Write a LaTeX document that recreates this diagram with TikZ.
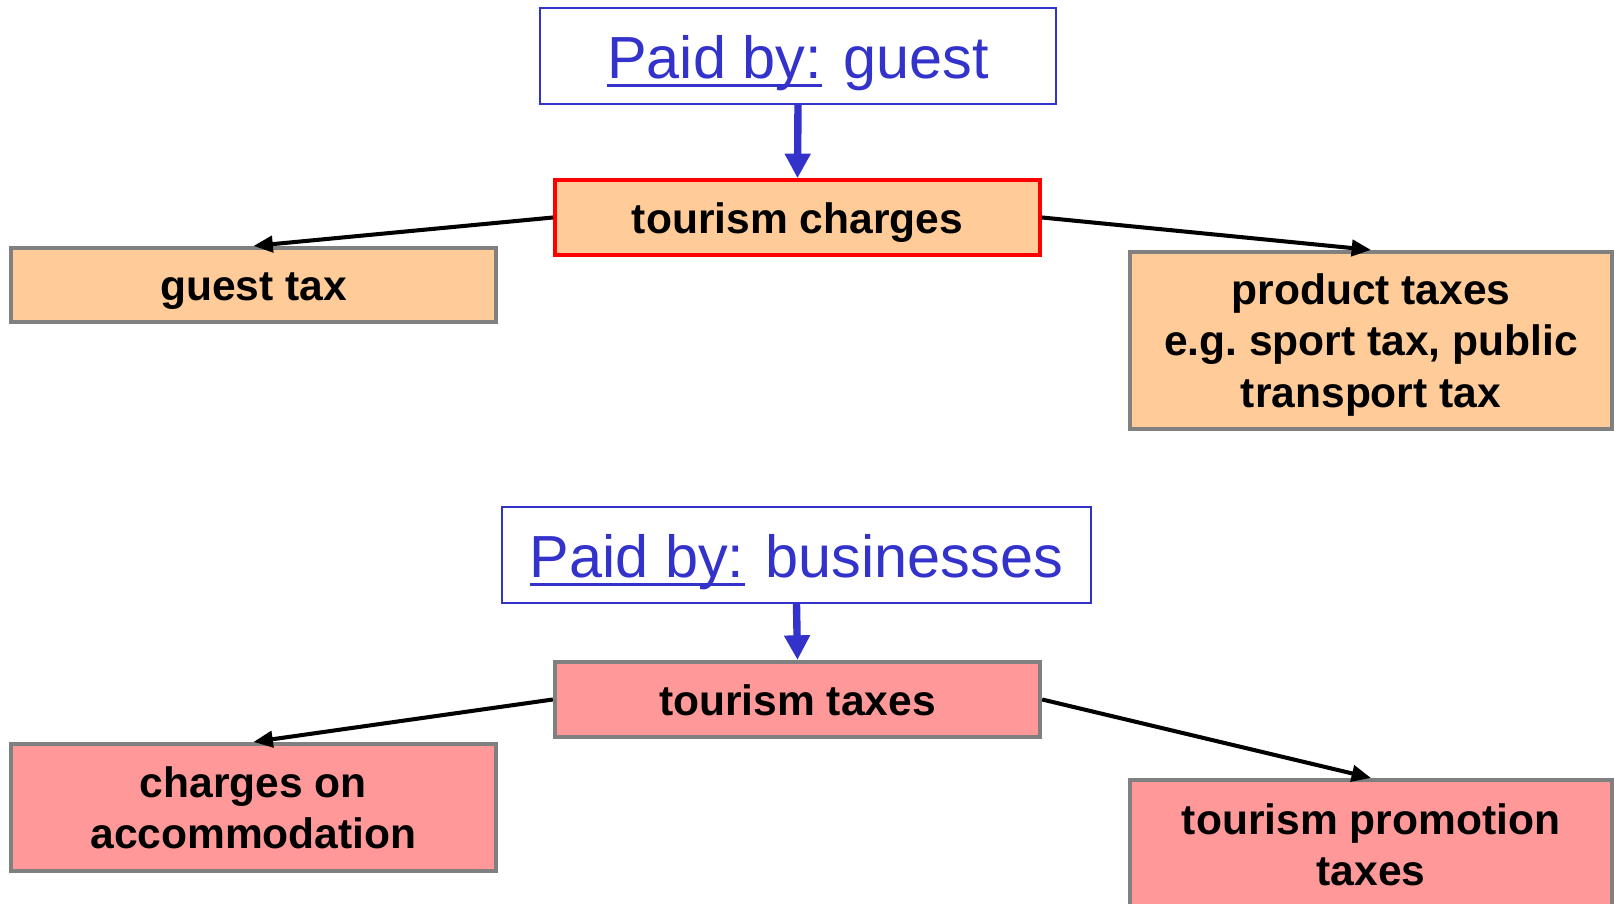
\documentclass[tikz,border=0pt]{standalone}
\usepackage{fontspec}
\setmainfont{Liberation Sans}
\usetikzlibrary{arrows.meta}
\frenchspacing

\definecolor{paidblue}{HTML}{3333CC}
\definecolor{boxorange}{HTML}{FFCC99}
\definecolor{boxpink}{HTML}{FF9999}
\definecolor{boxgray}{HTML}{808080}

% underline that sits just under the baseline, crossing descenders
\newcommand{\paidunder}[1]{\leavevmode\setbox0\hbox{#1}\rlap{\rule[-0.14em]{\wd0}{0.055em}}\box0}
\newcommand{\paidby}[1]{\paidunder{Paid by:}\hspace{0.36em}#1}

\tikzset{
  payerbox/.style={draw=paidblue, line width=0.6pt, fill=white, inner sep=0pt,
    text=paidblue, font=\fontsize{16.9}{19}\selectfont, text height=13pt, text depth=0pt},
  taxbox/.style={draw=boxgray, line width=1.15pt, inner sep=0pt, align=center,
    font=\fontsize{12.1}{14.6}\selectfont\bfseries},
  oneline/.style={text height=9pt, text depth=0pt},
  chargebox/.style={taxbox, fill=boxorange},
  levybox/.style={taxbox, fill=boxpink},
  branch/.style={draw=black, line width=1.15pt, -{Triangle[length=5.5pt,width=4.6pt]}},
  payerarrow/.style={draw=paidblue, line width=2.1pt, -{Triangle[length=7pt,width=7pt]}}
}

\begin{document}
\begin{tikzpicture}[x=0.01cm, y=-0.01cm]
  \clip (0,0) rectangle (1614,904);
  \fill[white] (0,0) rectangle (1614,904);

  % upper group: charges paid by guests
  \node[payerbox, minimum width=5.15cm, minimum height=0.96cm] (guest) at (798,56) {\paidby{guest}};
  \node[chargebox, oneline, draw=red, line width=1pt, minimum width=4.85cm, minimum height=0.75cm] (charges) at (797.5,217.5) {tourism charges};
  \node[chargebox, oneline, minimum width=4.85cm, minimum height=0.74cm] (guesttax) at (253.5,285) {guest tax};
  \node[chargebox, text depth=0pt, minimum width=4.82cm, minimum height=1.77cm] (product) at (1371,340.5) {product taxes\\e.g. sport tax, public\\transport tax};

  % lower group: taxes paid by businesses
  \node[payerbox, minimum width=5.89cm, minimum height=0.96cm] (business) at (796.5,555) {\paidby{businesses}};
  \node[levybox, oneline, minimum width=4.85cm, minimum height=0.75cm] (taxes) at (797.5,699.5) {tourism taxes};
  \node[levybox, minimum width=4.85cm, minimum height=1.27cm] (accom) at (253.5,807.5) {charges on\\accommodation};
  \node[levybox, minimum width=4.82cm, minimum height=1.30cm] (promo) at (1371,845) {tourism promotion\\taxes};

  % connectors
  \draw[payerarrow] (guest.south) -- (charges.north);
  \draw[branch] (charges.west) -- (guesttax.north);
  \draw[branch] (charges.east) -- (product.north);

  \draw[payerarrow] (business.south) -- (taxes.north);
  \draw[branch] (taxes.west) -- (accom.north);
  \draw[branch] (taxes.east) -- (promo.north);
\end{tikzpicture}
\end{document}
